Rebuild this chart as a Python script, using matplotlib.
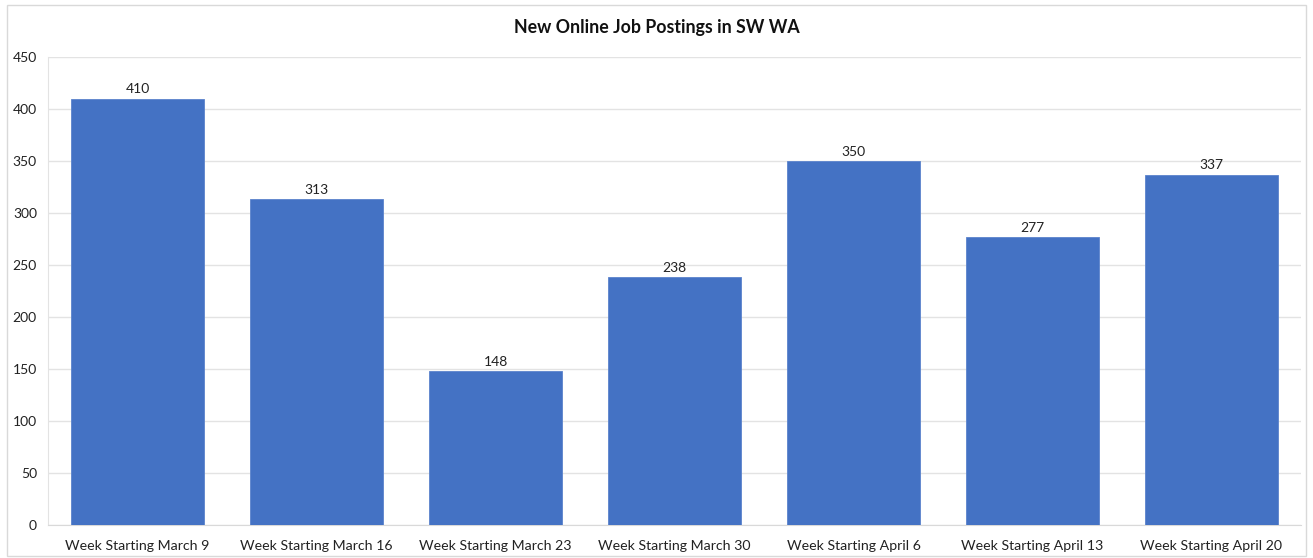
import matplotlib
matplotlib.use("Agg")
import matplotlib.pyplot as plt
from matplotlib.patches import Rectangle

categories = ["Week Starting March 9", "Week Starting March 16", "Week Starting March 23",
              "Week Starting March 30", "Week Starting April 6", "Week Starting April 13",
              "Week Starting April 20"]
values = [410, 313, 148, 238, 350, 277, 337]
yticks = [0, 50, 100, 150, 200, 250, 300, 350, 400, 450]

plt.rcParams['font.family'] = ['Lato', 'DejaVu Sans']

fig = plt.figure(figsize=(13.13, 5.58), dpi=100)
ax = fig.add_axes([48/1313, 1-525/558, (1301-48)/1313, (525-57)/558])

x = list(range(len(categories)))
bars = ax.bar(x, values, width=0.745, color="#4472C4", edgecolor="#5b83cc", linewidth=0.6, zorder=3)
for xi, v in zip(x, values):
    ax.text(xi, v + 3, str(v), ha="center", va="bottom", fontsize=10, color="#222222", zorder=4)

ax.set_xlim(-0.5, len(categories) - 0.5)
ax.set_ylim(0, 450)
ax.set_yticks(yticks)
ax.set_xticks(x)
ax.set_xticklabels(categories, fontsize=10.2, color="#222222")
ax.tick_params(axis="y", labelsize=10, colors="#222222", length=0, pad=8)
ax.tick_params(axis="x", length=0, pad=10.5)
ax.grid(axis="y", color="#e3e3e3", linewidth=1, zorder=0)
for s in ["top", "right"]:
    ax.spines[s].set_visible(False)
ax.spines["left"].set_color("#e3e3e3")
ax.spines["bottom"].set_color("#d9d9d9")

fig.text(0.5, 1-28/558, "New Online Job Postings in SW WA", ha="center", va="center",
         fontsize=12.8, fontweight="bold", color="#111111")

fig.patches.append(Rectangle((7/1313, 1-556/558), (1306-7)/1313, (556-5)/558,
                             transform=fig.transFigure, fill=False, edgecolor="#d9d9d9", linewidth=1))

fig.savefig("out.png", dpi=100, facecolor="white")
